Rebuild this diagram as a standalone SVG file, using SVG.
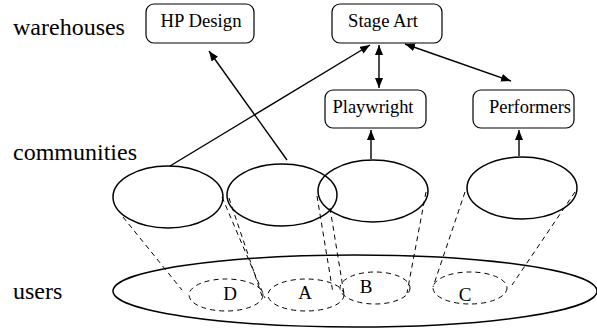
<svg xmlns="http://www.w3.org/2000/svg" width="597" height="329" viewBox="0 0 597 329">
<style>
.lbl{font-family:"Liberation Serif","Times New Roman",serif;font-size:24px;fill:#000}
.box rect{fill:#fff;stroke:#000;stroke-width:1.2}
.box text{font-family:"Liberation Serif","Times New Roman",serif;font-size:18px;fill:#000;text-anchor:middle}
.com{fill:none;stroke:#000;stroke-width:1.5}
.sub{fill:none;stroke:#000;stroke-width:1;stroke-dasharray:5,4}
.letter{font-family:"Liberation Serif","Times New Roman",serif;font-size:19px;fill:#000;text-anchor:middle}
.dl{stroke:#000;stroke-width:1;stroke-dasharray:5,4;fill:none}
.arr{stroke:#000;stroke-width:1.4;fill:none}
</style>
<defs>
<marker id="ah" viewBox="0 0 10 8" refX="10" refY="4" markerWidth="10" markerHeight="8" markerUnits="userSpaceOnUse" orient="auto-start-reverse">
<path d="M0,0 L10,4 L0,8 Z" fill="#000"/>
</marker>
</defs>
<g id="labels">
<text class="lbl" x="13" y="35">warehouses</text>
<text class="lbl" x="13" y="160">communities</text>
<text class="lbl" x="13" y="299">users</text>
</g>
<g id="users">
<ellipse class="com" cx="355" cy="291" rx="242" ry="36"/>
</g>
<g id="D"><ellipse class="sub" cx="226" cy="295" rx="37" ry="16"/><text class="letter" x="230" y="300">D</text></g>
<g id="A"><ellipse class="sub" cx="306" cy="295" rx="38" ry="16"/><text class="letter" x="305" y="299">A</text></g>
<g id="B"><ellipse class="sub" cx="375" cy="288" rx="35" ry="16"/><text class="letter" x="366" y="293">B</text></g>
<g id="C"><ellipse class="sub" cx="470" cy="288" rx="37" ry="16"/><text class="letter" x="465" y="301">C</text></g>
<g id="community1"><ellipse class="com" cx="168" cy="197" rx="55" ry="31"/></g>
<g id="community2"><ellipse class="com" cx="282" cy="195" rx="55" ry="31"/></g>
<g id="community3"><ellipse class="com" cx="373" cy="191" rx="55" ry="31"/></g>
<g id="community4"><ellipse class="com" cx="522" cy="188" rx="55" ry="31"/></g>
<g id="hpdesign" class="box"><rect x="146" y="4" width="108" height="39" rx="8"/><text x="201" y="27" textLength="81" lengthAdjust="spacingAndGlyphs">HP Design</text></g>
<g id="stageart" class="box"><rect x="332" y="4" width="110" height="39" rx="8"/><text x="383" y="27" textLength="70" lengthAdjust="spacingAndGlyphs">Stage Art</text></g>
<g id="playwright" class="box"><rect x="325" y="90" width="101" height="38" rx="8"/><text x="373" y="113" textLength="81" lengthAdjust="spacingAndGlyphs">Playwright</text></g>
<g id="performers" class="box"><rect x="473" y="90" width="101" height="38" rx="8"/><text x="530" y="113" textLength="82" lengthAdjust="spacingAndGlyphs">Performers</text></g>
<g id="connectors">
<line class="dl" x1="123" y1="217" x2="182" y2="290"/>
<line class="dl" x1="222" y1="197" x2="265" y2="298"/>
<line class="dl" x1="229" y1="198" x2="262" y2="296"/>
<line class="dl" x1="317" y1="196" x2="333" y2="293"/>
<line class="dl" x1="330" y1="208" x2="344" y2="294"/>
<line class="dl" x1="426" y1="192" x2="407" y2="293"/>
<line class="dl" x1="465" y1="192" x2="433" y2="287"/>
<line class="dl" x1="575" y1="192" x2="512" y2="285"/>
<line class="arr" x1="170" y1="166" x2="370" y2="45" marker-end="url(#ah)"/>
<line class="arr" x1="287" y1="160" x2="209" y2="51" marker-end="url(#ah)"/>
<line class="arr" x1="379" y1="45" x2="379" y2="88" marker-start="url(#ah)" marker-end="url(#ah)"/>
<line class="arr" x1="405" y1="44" x2="511" y2="81" marker-start="url(#ah)" marker-end="url(#ah)"/>
<line class="arr" x1="371" y1="159" x2="371" y2="130" marker-end="url(#ah)"/>
<line class="arr" x1="519" y1="156" x2="519" y2="130" marker-end="url(#ah)"/>
</g>
</svg>
